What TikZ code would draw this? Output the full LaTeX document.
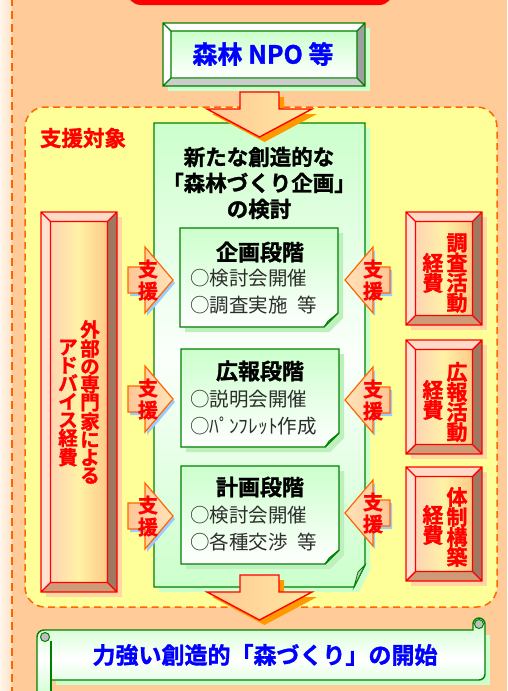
\documentclass[tikz,border=0pt]{standalone}
\usepackage{fontspec}
\setmainfont{Noto Sans CJK JP}[BoldFont={Noto Sans CJK JP Bold}, BoldFeatures={FakeBold=1.3}]
\definecolor{peach}{RGB}{255,204,153}
\definecolor{creamL}{RGB}{255,246,236}
\definecolor{creamR}{RGB}{255,226,196}
\definecolor{dashor}{RGB}{255,102,0}
\definecolor{yel}{RGB}{255,255,153}
\definecolor{grn}{RGB}{0,128,0}
\definecolor{lgrn}{RGB}{204,255,204}
\definecolor{sshad}{RGB}{190,240,190}
\definecolor{rshad}{RGB}{255,215,165}
\definecolor{rbtop}{RGB}{255,218,198}
\definecolor{rbleft}{RGB}{255,226,208}
\definecolor{rbright}{RGB}{160,120,98}
\definecolor{rbbot}{RGB}{205,155,120}
\definecolor{rinL}{RGB}{255,212,180}
\definecolor{rinM}{RGB}{255,242,165}
\definecolor{rinR}{RGB}{255,200,135}
\definecolor{arL}{RGB}{255,200,150}
\definecolor{arR}{RGB}{255,232,160}
\definecolor{orsh}{RGB}{255,153,0}
\definecolor{bluesh}{RGB}{153,204,255}
\definecolor{supL}{RGB}{255,198,150}
\definecolor{supR}{RGB}{255,226,185}
\definecolor{txtgray}{RGB}{45,45,45}

\newcommand\RedBevel[5]{%
  \fill[rshad] (#2+5,#3+5) rectangle (#4+5,#5+5);
  \fill[rbtop] (#2,#3) -- (#4,#3) -- (#4-9.5,#3+9.5) -- (#2+9.5,#3+9.5) -- cycle;
  \fill[rbleft] (#2,#3) -- (#2+9.5,#3+9.5) -- (#2+9.5,#5-9.5) -- (#2,#5) -- cycle;
  \fill[rbright] (#4,#3) -- (#4,#5) -- (#4-9.5,#5-9.5) -- (#4-9.5,#3+9.5) -- cycle;
  \fill[rbbot] (#2,#5) -- (#4,#5) -- (#4-9.5,#5-9.5) -- (#2+9.5,#5-9.5) -- cycle;
  \shade[left color=rinL, right color=rinR, middle color=rinM] (#2+9.5,#3+9.5) rectangle (#4-9.5,#5-9.5);
  \draw[redline] (#2,#3) rectangle (#4,#5) (#2+9.5,#3+9.5) rectangle (#4-9.5,#5-9.5)
    (#2,#3) -- (#2+9.5,#3+9.5) (#4,#3) -- (#4-9.5,#3+9.5)
    (#2,#5) -- (#2+9.5,#5-9.5) (#4,#5) -- (#4-9.5,#5-9.5);
  \coordinate (#1) at ({(#2+#4)/2},{(#3+#5)/2});
}
\newcommand\StageBox[5]{%
  \fill[sshad] (#2+5,#3+5) -- (#4+5,#3+5) -- (#4+5,#5-9) -- (#4-9,#5+5) -- (#2+5,#5+5) -- cycle;
  \shadedraw[top color=lgrn, bottom color=white, grnline] (#2,#3) -- (#4,#3) -- (#4,#5-14) -- (#4-14,#5) -- (#2,#5) -- cycle;
  \filldraw[fill=gray!45, draw=grn, line width=0.8pt] (#4-14,#5) -- (#4,#5-14) -- (#4-10,#5-6) -- cycle;
  \coordinate (#1) at ({(#2+#4)/2},{(#3+#5)/2});
}
\newcommand\DownArrow[3]{%
  \fill[orsh, shift={(5,5)}] (#2-19.5,#3) -- (#2+19.5,#3) -- (#2+19.5,#3+17) -- (#2+52.5,#3+17) -- (#2,#3+45) -- (#2-52.5,#3+17) -- (#2-19.5,#3+17) -- cycle;
  \shadedraw[left color=arL, right color=arR, draw=red, line width=1.4pt] (#2-19.5,#3) -- (#2+19.5,#3) -- (#2+19.5,#3+17) -- (#2+52.5,#3+17) -- (#2,#3+45) -- (#2-52.5,#3+17) -- (#2-19.5,#3+17) -- cycle;
  \coordinate (#1) at (#2,#3+45);
}
\newcommand\SupRight[2]{%
  \fill[bluesh, shift={(2,3)}] (128,#2-13) -- (145,#2-13) -- (145,#2-33) -- (173,#2) -- (145,#2+33) -- (145,#2+13) -- (128,#2+13) -- cycle;
  \shadedraw[left color=supL, right color=supR, draw=dashor, line width=1.2pt] (128,#2-13) -- (145,#2-13) -- (145,#2-33) -- (173,#2) -- (145,#2+33) -- (145,#2+13) -- (128,#2+13) -- cycle;
  \node[supt] (#1) at (148,#2) {支\\援};
}
\newcommand\SupLeft[2]{%
  \fill[bluesh, shift={(2,3)}] (390,#2-13) -- (373,#2-13) -- (373,#2-33) -- (345,#2) -- (373,#2+33) -- (373,#2+13) -- (390,#2+13) -- cycle;
  \shadedraw[left color=supR, right color=supL, draw=dashor, line width=1.2pt] (390,#2-13) -- (373,#2-13) -- (373,#2-33) -- (345,#2) -- (373,#2+33) -- (373,#2+13) -- (390,#2+13) -- cycle;
  \node[supt] (#1) at (373,#2) {支\\援};
}

\begin{document}
\begin{tikzpicture}[x=1pt,y=-1pt,
  grnline/.style={draw=grn, line width=1.4pt},
  redline/.style={draw=red, line width=1.4pt},
  supt/.style={font=\fontsize{20}{22}\selectfont\bfseries, text=red, align=center, inner sep=0pt},
  vred/.style={font=\fontsize{19.5}{17.9}\selectfont\bfseries, text=red, align=center, inner sep=0pt},
  vred2/.style={font=\fontsize{21}{20}\selectfont\bfseries, text=red, align=center, inner sep=0pt},
  titlet/.style={font=\fontsize{21.5}{26}\selectfont\bfseries, text=black, align=center, inner sep=0pt},
  stitle/.style={font=\fontsize{22}{22}\selectfont\bfseries, text=black, inner sep=0pt},
  itemt/.style={font=\fontsize{19.5}{19.5}\selectfont, text=txtgray, inner sep=0pt, anchor=west},
  bluet/.style={text=blue, inner sep=0pt}]
\useasboundingbox (0,0) rectangle (507,691);
\clip (0,0) rectangle (507,691);
% background
\fill[peach] (0,0) rectangle (507,691);
\shade[left color=creamL, right color=creamR] (0,0) rectangle (12,691);
\draw[dashor, line width=1.5pt, dash pattern=on 8pt off 5pt] (12,-2) -- (12,695);
% top red box
\fill[red, rounded corners=14pt] (127,-40) rectangle (393,5);
% NPO box
\fill[lgrn] (168,28) rectangle (370,91);
\fill[white] (163,23) -- (365,23) -- (357,31) -- (171,31) -- cycle;
\fill[white] (163,23) -- (171,31) -- (171,78) -- (163,86) -- cycle;
\fill[gray!75] (365,23) -- (365,86) -- (357,78) -- (357,31) -- cycle;
\fill[gray!40] (163,86) -- (365,86) -- (357,78) -- (171,78) -- cycle;
\shade[top color=lgrn, bottom color=white] (171,31) rectangle (357,78);
\draw[grnline] (163,23) rectangle (365,86) (171,31) rectangle (357,78)
  (163,23) -- (171,31) (365,23) -- (357,31) (163,86) -- (171,78) (365,86) -- (357,78);
\node[bluet, font=\fontsize{25}{25}\selectfont\bfseries] (npo) at (263,54) {森林 NPO 等};
% support target region
\draw[dashor, fill=yel, line width=1.5pt, dash pattern=on 7pt off 4.5pt, rounded corners=20pt] (25,107) rectangle (497,607);
\node[font=\fontsize{21.5}{21.5}\selectfont\bfseries, text=red, inner sep=0pt] (target) at (83,138) {支援対象};
% main green box
\fill[lgrn] (159,128) -- (370,128) -- (370,570) -- (359,592) -- (159,592) -- cycle;
\shadedraw[top color=lgrn, bottom color=lgrn, middle color=white!92!lgrn, grnline] (154,123) -- (365,123) -- (365,565) -- (354,587) -- (154,587) -- cycle;
\filldraw[fill=gray!45, draw=grn, line width=0.8pt] (354,587) -- (365,565) -- (358,572) -- cycle;
% top arrow
\DownArrow{arrowtop}{259.5}{92}
\node[titlet] (title) at (259,183) {新たな創造的な\\「森林づくり企画」\\の検討};
% stage boxes
\StageBox{s1}{180}{228}{338}{327}
\node[stitle] (s1t) at (260,252) {企画段階};
\node[itemt] (s1a) at (190,278) {○検討会開催};
\node[itemt] (s1b) at (190,305) {○調査実施\hspace{0.5em}等};
\StageBox{s2}{181}{349}{339}{447}
\node[stitle] (s2t) at (260,371) {広報段階};
\node[itemt] (s2a) at (190,399) {○説明会開催};
\node[itemt] (s2b) at (190,426) {○ﾊﾟﾝﾌﾚｯﾄ作成};
\StageBox{s3}{181}{466}{339}{564}
\node[stitle] (s3t) at (260,487) {計画段階};
\node[itemt] (s3a) at (190,515) {○検討会開催};
\node[itemt] (s3b) at (190,542) {○各種交渉\hspace{0.5em}等};
% red bevel boxes
\RedBevel{adv}{41}{212}{117}{592}
\node[vred] (advA) at (90,402) {外\\部\\の\\専\\門\\家\\に\\よ\\る};
\node[vred, font=\fontsize{19.5}{18.2}\selectfont\bfseries] (advB) at (68,403) {ア\\ド\\バ\\イ\\ス\\経\\費};
\RedBevel{r1}{406}{212}{482}{325}
\node[vred2] (r1a) at (457,273) {調\\査\\活\\動};
\node[vred2] (r1b) at (433,273) {経\\費};
\RedBevel{r2}{406}{340}{482}{454}
\node[vred2] (r2a) at (457,402) {広\\報\\活\\動};
\node[vred2] (r2b) at (433,400) {経\\費};
\RedBevel{r3}{406}{467}{482}{581}
\node[vred2] (r3a) at (457,527) {体\\制\\構\\築};
\node[vred2] (r3b) at (433,525) {経\\費};
% support arrows
\SupRight{sl1}{280}
\SupRight{sl2}{399}
\SupRight{sl3}{516}
\SupLeft{sr1}{280}
\SupLeft{sr2}{400}
\SupLeft{sr3}{513}
% bottom arrow
\DownArrow{arrowbot}{259.5}{575}
% scroll banner
\fill[lgrn] (56,635) rectangle (490,685);
\shadedraw[top color=lgrn, bottom color=lgrn, middle color=white, grnline]
  (37,637) arc[start angle=180, end angle=270, radius=7] -- (473,630) -- (473,624)
  arc[start angle=180, end angle=360, radius=6] -- (485,674)
  arc[start angle=0, end angle=90, radius=6] -- (51,680) -- (51,700) -- (37,700) -- cycle;
\draw[grnline] (51,641) -- (51,700);
\filldraw[fill=gray!50, draw=grn, line width=1pt] (45,637) circle[radius=4.5];
\filldraw[fill=gray!50, draw=grn, line width=1pt] (479,624) circle[radius=4.5];
\node[bluet, font=\fontsize{23}{23}\selectfont\bfseries] (banner) at (265,655) {力強い創造的「森づくり」の開始};
\end{tikzpicture}
\end{document}
